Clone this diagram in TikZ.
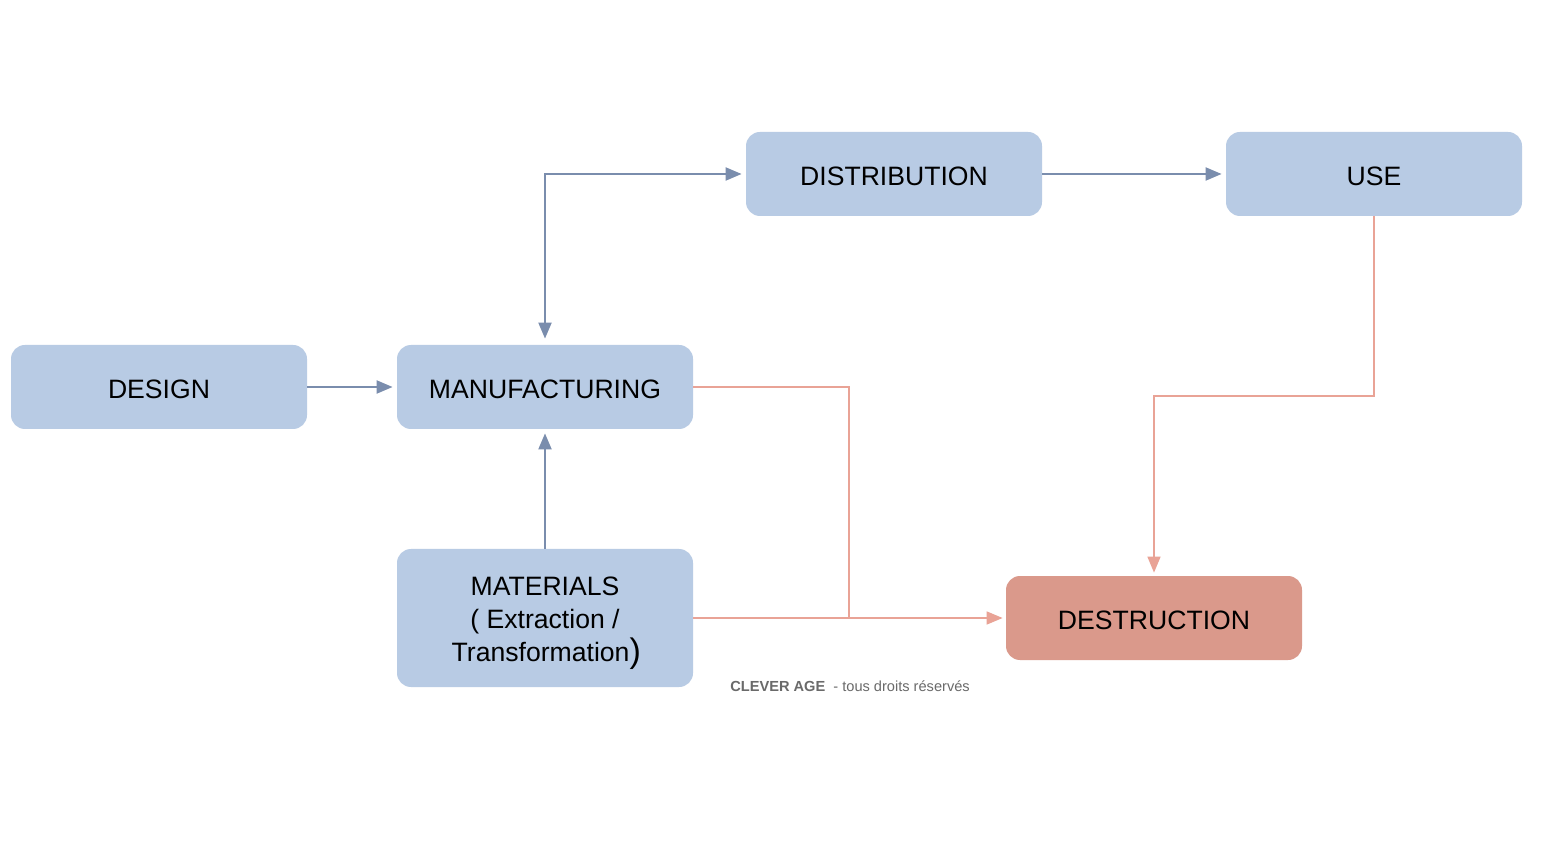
\documentclass[tikz,border=0pt]{standalone}
\usepackage{fontspec}
\setmainfont{Liberation Sans}
\usetikzlibrary{arrows.meta}
\definecolor{boxblue}{HTML}{B8CBE4}
\definecolor{boxred}{HTML}{DA998B}
\definecolor{lineblue}{HTML}{7A8DAD}
\definecolor{linered}{HTML}{E9A396}
\definecolor{footgray}{HTML}{6A6A6A}
\begin{document}
\begin{tikzpicture}[x=0.5pt,y=-0.5pt,
  stagebox/.style={rectangle, rounded corners=7pt, minimum width=148pt, minimum height=42pt,
    fill=boxblue, draw=none, align=center, font=\fontsize{13.3}{16.5}\selectfont, text=black, inner sep=0pt,
    text height=11.5pt, text depth=0pt},
  endbox/.style={stagebox, fill=boxred},
  blueflow/.style={draw=lineblue, line width=1pt, -{Triangle[length=8pt,width=6.5pt]}, shorten >=2pt},
  redflow/.style={draw=linered, line width=0.8pt, -{Triangle[length=8pt,width=6.5pt]}, shorten >=1.5pt},
  redline/.style={draw=linered, line width=0.8pt}]
\useasboundingbox (0,0) rectangle (1564,844);
\fill[white] (0,0) rectangle (1564,844);

\node[stagebox] (dist) at (894,174) {DISTRIBUTION};
\node[stagebox] (use) at (1374,174) {USE};
\node[stagebox] (design) at (159,387) {DESIGN};
\node[stagebox] (manu) at (545,387) {MANUFACTURING};
\node[stagebox, minimum height=69pt, text height={}, text depth={}] (mat) at (545,618) {\rule{0pt}{14.5pt}MATERIALS\\( Extraction /\\Transformation\rlap{\fontsize{17}{17}\selectfont\raisebox{-0.5pt}{)}}\phantom{)}};
\node[endbox] (dest) at (1154,618) {DESTRUCTION};

\coordinate (jr) at (849,618);
\coordinate (ku) at (1374,396);

\draw[blueflow] (design.east) -- (manu.west);
\draw[blueflow] (dist.east) -- (use.west);
\draw[blueflow] (mat.north) -- (manu.south);
\draw[draw=lineblue, line width=1pt, {Triangle[length=8pt,width=6.5pt]}-{Triangle[length=8pt,width=6.5pt]}, shorten <=3pt, shorten >=2pt] (manu.north) |- (dist.west);

\draw[redline] (manu.east) -| (jr);
\draw[redflow] (mat.east) -- (dest.west);
\draw[redflow] (use.south) -- (ku) -| (dest.north);

\node[anchor=west, text=footgray, font=\fontsize{7.3}{8}\selectfont, inner sep=0pt] (foot) at (730,686)
  {\textbf{CLEVER AGE}\ \ - tous droits réservés};
\end{tikzpicture}
\end{document}
